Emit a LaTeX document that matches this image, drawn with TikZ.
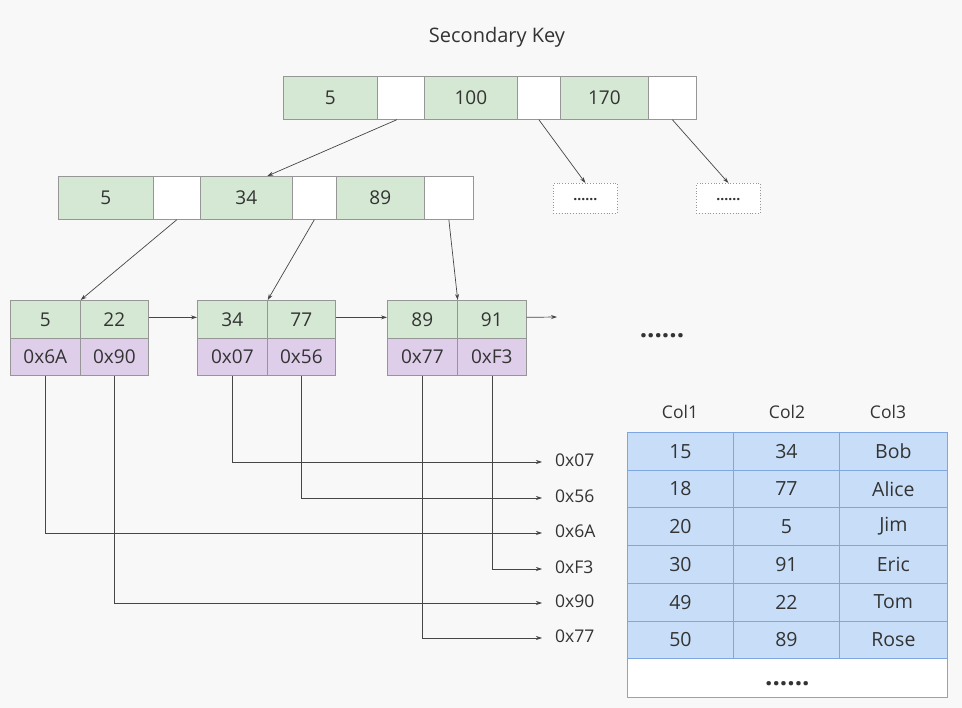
\documentclass[tikz,border=0pt]{standalone}
\usepackage{fontspec}
\setmainfont{Open Sans}
\usetikzlibrary{arrows.meta,calc}
\definecolor{bg}{RGB}{248,248,248}
\definecolor{gfill}{RGB}{213,232,212}
\definecolor{pfill}{RGB}{222,206,234}
\definecolor{bfill}{RGB}{200,222,248}
\definecolor{bline}{RGB}{126,166,224}
\definecolor{cline}{RGB}{150,150,150}
\definecolor{txt}{RGB}{51,51,51}
\definecolor{arr}{RGB}{70,70,70}
\begin{document}
\begin{tikzpicture}[x=1pt,y=-1pt,
  cell/.style={draw=cline, line width=0.7pt, minimum height=43pt, anchor=north west, inner sep=0pt, font=\fontsize{19}{22}\selectfont, text=txt},
  gk/.style={cell, fill=gfill},
  wk/.style={cell, fill=white},
  pk/.style={cell, fill=pfill},
  dotbox/.style={draw=cline, dotted, line width=0.8pt, fill=white, minimum width=64pt, minimum height=30pt, anchor=north west, inner sep=0pt, font=\fontsize{14}{16}\selectfont\bfseries, text=txt},
  conn/.style={draw=arr, line width=0.7pt, -{Stealth[length=6pt,width=4pt]}},
  addr/.style={anchor=west, inner sep=0pt, font=\fontsize{17.5}{20}\selectfont, text=txt},
  tcell/.style={draw=bline, line width=0.8pt, fill=bfill, minimum width=106pt, minimum height=37.7pt, anchor=north west, inner sep=0pt, font=\fontsize{19.5}{22}\selectfont, text=txt},
  thead/.style={inner sep=0pt, font=\fontsize{17.5}{20}\selectfont, text=txt}
]
\fill[bg] (0,0) rectangle (962,708);
\useasboundingbox (0,0) rectangle (962,708);

\node[font=\fontsize{20}{24}\selectfont, text=txt] (title) at (497,37) {Secondary Key};

% root
\node[gk, minimum width=94pt] (r1) at (283,76) {5};
\node[wk, minimum width=47pt] (rw1) at (377,76) {};
\node[gk, minimum width=93pt] (r2) at (424,76) {100};
\node[wk, minimum width=43pt] (rw2) at (517,76) {};
\node[gk, minimum width=88pt] (r3) at (560,76) {170};
\node[wk, minimum width=48pt] (rw3) at (648,76) {};

% level 2
\node[gk, minimum width=95pt] (a1) at (58,176) {5};
\node[wk, minimum width=47pt] (aw1) at (153,176) {};
\node[gk, minimum width=92pt] (a2) at (200,176) {34};
\node[wk, minimum width=44pt] (aw2) at (292,176) {};
\node[gk, minimum width=88pt] (a3) at (336,176) {89};
\node[wk, minimum width=49pt] (aw3) at (424,176) {};

% dotted boxes
\node[dotbox] (d1) at (553,183) {\raisebox{-5pt}{......}};
\node[dotbox] (d2) at (696,183) {\raisebox{-5pt}{......}};

% leaves
\node[gk, minimum width=70pt, minimum height=38pt] (l1a) at (10,300) {5};
\node[gk, minimum width=68pt, minimum height=38pt] (l1b) at (80,300) {22};
\node[pk, minimum width=70pt, minimum height=37pt] (l1c) at (10,338) {0x6A};
\node[pk, minimum width=68pt, minimum height=37pt] (l1d) at (80,338) {0x90};

\node[gk, minimum width=70pt, minimum height=38pt] (l2a) at (197,300) {34};
\node[gk, minimum width=68pt, minimum height=38pt] (l2b) at (267,300) {77};
\node[pk, minimum width=70pt, minimum height=37pt] (l2c) at (197,338) {0x07};
\node[pk, minimum width=68pt, minimum height=37pt] (l2d) at (267,338) {0x56};

\node[gk, minimum width=70pt, minimum height=38pt] (l3a) at (387,300) {89};
\node[gk, minimum width=69pt, minimum height=38pt] (l3b) at (457,300) {91};
\node[pk, minimum width=70pt, minimum height=37pt] (l3c) at (387,338) {0x77};
\node[pk, minimum width=69pt, minimum height=37pt] (l3d) at (457,338) {0xF3};

\coordinate (lend) at (557,317);
\node[font=\fontsize{26}{28}\selectfont\bfseries, text=txt] (more) at (662,336) {......};

% tree arrows
\draw[conn] ([xshift=-4pt]rw1.south) -- ([xshift=21pt]a2.north);
\draw[conn] (rw2.south) -- (d1.north);
\draw[conn] (rw3.south) -- (d2.north);
\draw[conn] (aw1.south) -- (l1a.north east);
\draw[conn] (aw2.south) -- (l2a.north east);
\draw[conn] (aw3.south) -- (l3a.north east);

% leaf chain
\draw[conn] ([yshift=2pt]l1b.east) -- ([yshift=2pt]l2a.west);
\draw[conn] ([yshift=2pt]l2b.east) -- ([yshift=2pt]l3a.west);
\draw[conn] ([yshift=2pt]l3b.east) -- (lend);

% address labels
\node[addr] (x07) at (555,460) {0x07};
\node[addr] (x56) at (555,496) {0x56};
\node[addr] (x6A) at (555,531) {0x6A};
\node[addr] (xF3) at (555,567) {0xF3};
\node[addr] (x90) at (555,601) {0x90};
\node[addr] (x77) at (555,636) {0x77};

\draw[conn] (l2c.south) |- ([xshift=-13pt,yshift=-2pt]x07.west);
\draw[conn] (l2d.south) |- ([xshift=-13pt,yshift=-2pt]x56.west);
\draw[conn] (l1c.south) |- ([xshift=-13pt,yshift=-2pt]x6A.west);
\draw[conn] (l3d.south) |- ([xshift=-13pt,yshift=-2pt]xF3.west);
\draw[conn] (l1d.south) |- ([xshift=-13pt,yshift=-2pt]x90.west);
\draw[conn] (l3c.south) |- ([xshift=-13pt,yshift=-2pt]x77.west);

% table
\node[thead] (h1) at (680,412) {Col1};
\node[thead] (h2) at (787,412) {Col2};
\node[thead] (h3) at (888,412) {Col3};
\foreach \r/\a/\b/\c in {0/15/34/Bob,1/18/77/Alice,2/20/5/Jim,3/30/91/Eric,4/49/22/Tom,5/50/89/Rose}{
  \node[tcell] (t\r a) at (627,432+37.7*\r) {\a};
  \node[tcell] (t\r b) at (733,432+37.7*\r) {\b};
  \node[tcell, minimum width=108pt] (t\r c) at (839,432+37.7*\r) {\c};
}
\node[tcell, fill=white, minimum width=320pt, minimum height=38.5pt] (tmore) at (627,658.2) {};
\node[font=\fontsize{26}{28}\selectfont\bfseries, text=txt, yshift=-6pt] (tdots) at (tmore.center) {......};
\end{tikzpicture}
\end{document}
